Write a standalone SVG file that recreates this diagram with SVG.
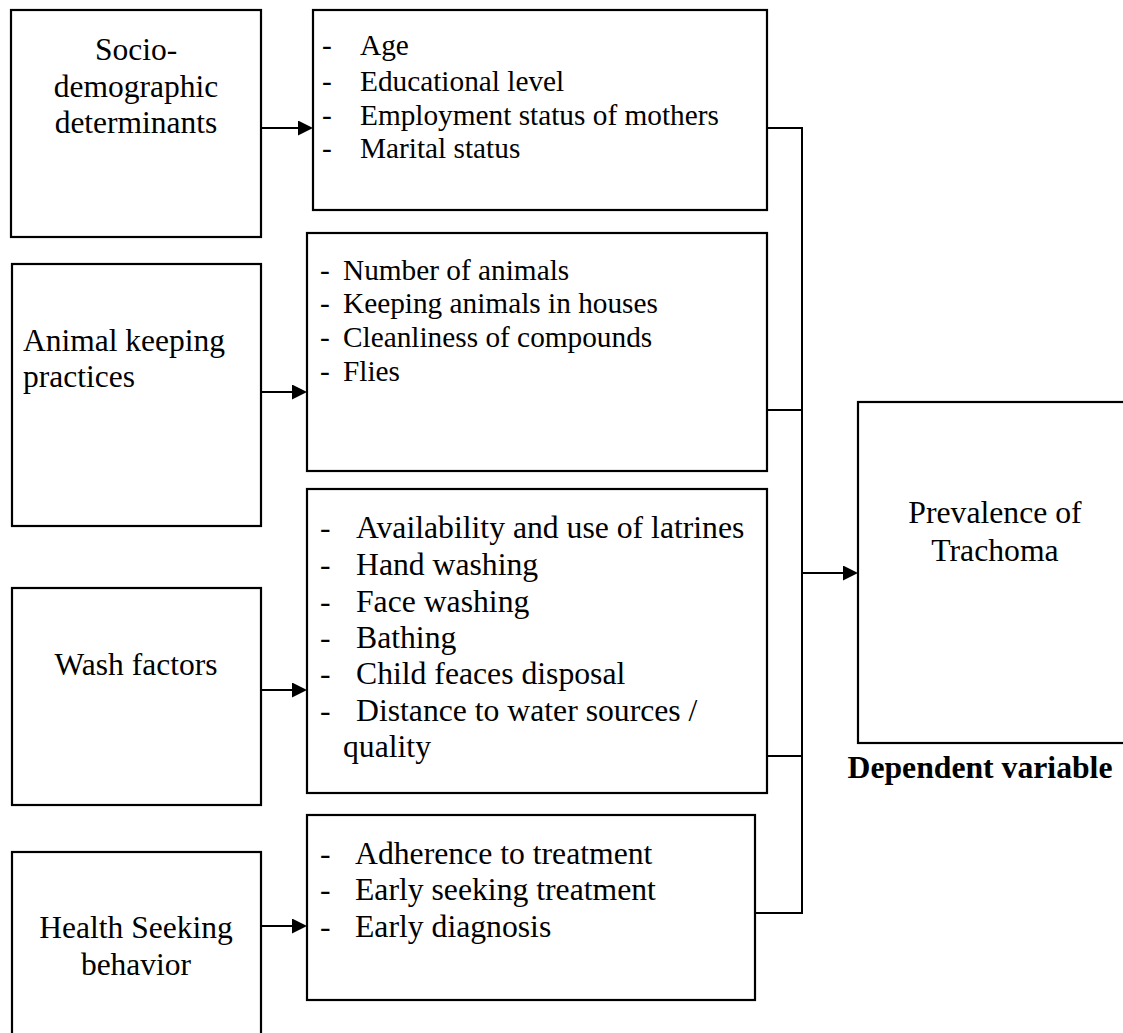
<svg xmlns="http://www.w3.org/2000/svg" width="1123" height="1033" viewBox="0 0 1123 1033">
<style>
.box{fill:#fff;stroke:#000;stroke-width:2.2}
.t{font-family:"Liberation Serif","Times New Roman",serif;fill:#000}
.l{font-size:31.5px}
.m{font-size:29.3px}
.s{font-size:31.7px}
.c{text-anchor:middle}
.b{font-weight:bold}
.con{fill:none;stroke:#000;stroke-width:2}
</style>
<defs>
<marker id="arr" markerWidth="15" markerHeight="16" refX="13" refY="7.5" orient="auto" markerUnits="userSpaceOnUse">
<path d="M0,0 L15,7.5 L0,15 z" fill="#000"/>
</marker>
</defs>
<rect width="1123" height="1033" fill="#fff"/>

<g id="socio">
<rect class="box" x="11" y="10" width="250" height="227"/>
<text class="t l c" x="136" y="60">Socio-</text>
<text class="t l c" x="136" y="97">demographic</text>
<text class="t l c" x="136" y="133">determinants</text>
</g>

<g id="socio-list">
<rect class="box" x="313" y="10" width="454" height="200"/>
<g class="t m">
<text x="322" y="55">-</text><text x="360" y="55">Age</text>
<text x="322" y="91">-</text><text x="360" y="91">Educational level</text>
<text x="322" y="125">-</text><text x="360" y="125">Employment status of mothers</text>
<text x="322" y="158">-</text><text x="360" y="158">Marital status</text>
</g>
</g>

<g id="animal">
<rect class="box" x="12" y="264" width="249" height="262"/>
<text class="t l" x="23" y="351">Animal keeping</text>
<text class="t l" x="23" y="387">practices</text>
</g>

<g id="animal-list">
<rect class="box" x="307" y="233" width="460" height="238"/>
<g class="t m">
<text x="320" y="280">-</text><text x="343" y="280">Number of animals</text>
<text x="320" y="313">-</text><text x="343" y="313">Keeping animals in houses</text>
<text x="320" y="347">-</text><text x="343" y="347">Cleanliness of compounds</text>
<text x="320" y="381">-</text><text x="343" y="381">Flies</text>
</g>
</g>

<g id="wash">
<rect class="box" x="12" y="588" width="249" height="217"/>
<text class="t l c" x="136" y="675">Wash factors</text>
</g>

<g id="wash-list">
<rect class="box" x="307" y="489" width="460" height="304"/>
<g class="t s">
<text x="320" y="538">-</text><text x="356" y="538">Availability and use of latrines</text>
<text x="320" y="575">-</text><text x="356" y="575">Hand washing</text>
<text x="320" y="612">-</text><text x="356" y="612">Face washing</text>
<text x="320" y="648">-</text><text x="356" y="648">Bathing</text>
<text x="320" y="684">-</text><text x="356" y="684">Child feaces disposal</text>
<text x="320" y="721">-</text><text x="356" y="721">Distance to water sources /</text>
<text x="343" y="757">quality</text>
</g>
</g>

<g id="health">
<rect class="box" x="12" y="852" width="249" height="200"/>
<text class="t l c" x="136" y="938">Health Seeking</text>
<text class="t l c" x="136" y="975">behavior</text>
</g>

<g id="health-list">
<rect class="box" x="307" y="815" width="448" height="185"/>
<g class="t s">
<text x="320" y="864">-</text><text x="355" y="864">Adherence to treatment</text>
<text x="320" y="900">-</text><text x="355" y="900">Early seeking treatment</text>
<text x="320" y="937">-</text><text x="355" y="937">Early diagnosis</text>
</g>
</g>

<g id="trachoma">
<rect class="box" x="858" y="402" width="280" height="341"/>
<text class="t s c" x="995" y="523">Prevalence of</text>
<text class="t s c" x="995" y="561">Trachoma</text>
<text class="t s c b" x="980" y="778">Dependent variable</text>
</g>

<g id="connectors">
<line class="con" x1="261" y1="128" x2="311" y2="128" marker-end="url(#arr)"/>
<line class="con" x1="261" y1="392" x2="305" y2="392" marker-end="url(#arr)"/>
<line class="con" x1="261" y1="690" x2="305" y2="690" marker-end="url(#arr)"/>
<line class="con" x1="261" y1="926" x2="305" y2="926" marker-end="url(#arr)"/>
<polyline class="con" points="767,128 802,128 802,913 755,913"/>
<line class="con" x1="767" y1="410" x2="802" y2="410"/>
<line class="con" x1="767" y1="756" x2="802" y2="756"/>
<line class="con" x1="802" y1="573" x2="856" y2="573" marker-end="url(#arr)"/>
</g>
</svg>
